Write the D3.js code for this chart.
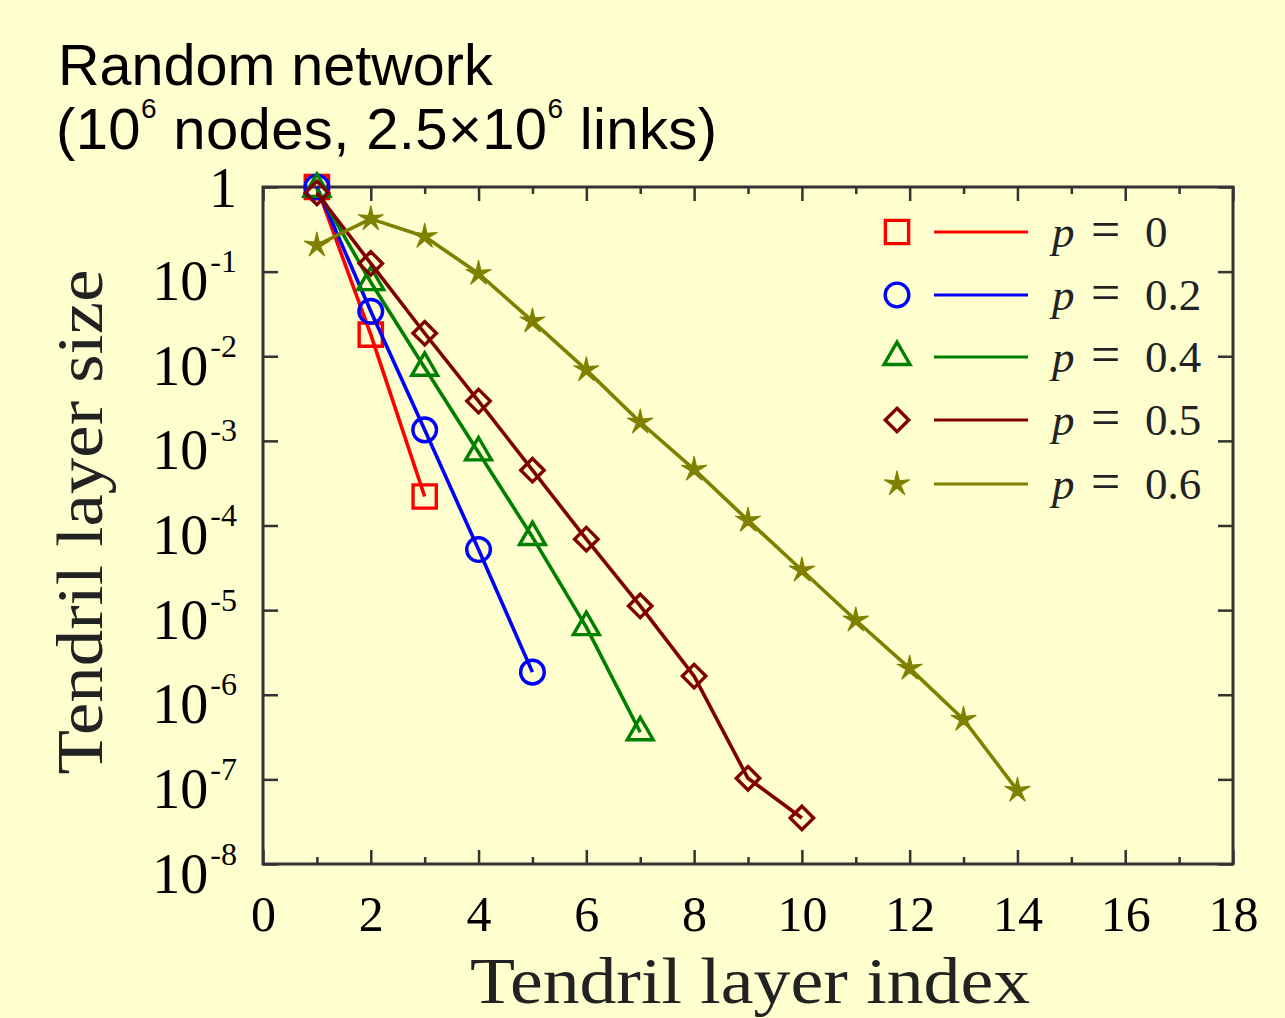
<!DOCTYPE html>
<html><head><meta charset="utf-8">
<script src="https://cdn.jsdelivr.net/npm/d3@7"></script>
<style>html,body{margin:0;padding:0;background:#fefecf;} svg{display:block}</style>
</head><body><svg id="c" width="1285" height="1018"></svg>
<script>
// ---- data ----
const titleLine1 = "Random network";
const xLabel = "Tendril layer index";
const yLabel = "Tendril layer size";
const xTicks = [0, 2, 4, 6, 8, 10, 12, 14, 16, 18];
const xMinorTicks = [1, 3, 5, 7, 9, 11, 13, 15, 17];
const yTicks = [1, 1e-1, 1e-2, 1e-3, 1e-4, 1e-5, 1e-6, 1e-7, 1e-8];
const yTickExponents = [0, -1, -2, -3, -4, -5, -6, -7, -8];
const seriesLabels = ["0", "0.2", "0.4", "0.5", "0.6"];
const seriesColors = ["#ff0000", "#0000ff", "#008000", "#800000", "#808000"];
const seriesSymbols = ["square", "circle", "triangle", "diamond", "star"];
const layerIndex = [1, 2, 3, 4, 5, 6, 7, 8, 9, 10, 11, 12, 13, 14];
const sizeP00 = [1.0, 0.018, 2.2e-4];
const sizeP02 = [1.0, 0.034, 1.35e-3, 5.2e-5, 1.85e-6];
const sizeP04 = [0.95, 0.075, 7.3e-3, 7.3e-4, 7.3e-5, 6.3e-6, 3.6e-7];
const sizeP05 = [0.85, 0.125, 0.0187, 2.95e-3, 4.5e-4, 6.9e-5, 1.12e-5, 1.66e-6, 1.03e-7, 3.5e-8];
const sizeP06 = [0.205, 0.42, 0.26, 0.095, 0.026, 6.9e-3, 1.66e-3, 4.6e-4, 1.15e-4, 2.96e-5, 7.6e-6, 2.05e-6, 5.1e-7, 7.4e-8];
const seriesValues = [sizeP00, sizeP02, sizeP04, sizeP05, sizeP06];

// ---- layout ----
const svg = d3.select("#c");
const L = 263, R = 1233, T = 187, B = 864;
const x = d3.scaleLinear().domain([0, 18]).range([L, R]);
const y = d3.scaleLog().domain([1e-8, 1]).range([B, T]);
const serif = "'Liberation Serif', 'Times New Roman', serif";
const sans = "'Liberation Sans', Arial, sans-serif";
const frameColor = "#333";

svg.append("rect").attr("width", 1285).attr("height", 1018).attr("fill", "#fefecf");

// title
svg.append("text").attr("font-family", sans).attr("font-size", 57.5).attr("fill", "#000")
  .attr("x", 58).attr("y", 85).text(titleLine1);
const t2 = svg.append("text").attr("font-family", sans).attr("font-size", 58).attr("fill", "#000")
  .attr("x", 56).attr("y", 149).attr("textLength", 661).attr("lengthAdjust", "spacing");
t2.append("tspan").text("(10");
t2.append("tspan").attr("font-size", 28).attr("dy", -31).text("6");
t2.append("tspan").attr("dy", 31).text(" nodes, 2.5×10");
t2.append("tspan").attr("font-size", 28).attr("dy", -31).text("6");
t2.append("tspan").attr("dy", 31).text(" links)");

// axes
function styleAxis(g) {
  g.select(".domain").remove();
  g.selectAll(".tick line").attr("stroke", frameColor).attr("stroke-width", 2.5);
}
const gxB = svg.append("g").attr("transform", `translate(0,${B})`)
  .call(d3.axisBottom(x).tickValues(xTicks).tickSizeInner(-14).tickSizeOuter(0).tickPadding(22));
styleAxis(gxB);
gxB.selectAll(".tick text").attr("font-family", serif).attr("font-size", 50).attr("fill", "#000")
  .attr("dy", "0.71em").attr("y", 31);
const gxBm = svg.append("g").attr("transform", `translate(0,${B})`)
  .call(d3.axisBottom(x).tickValues(xMinorTicks).tickSizeInner(-7).tickSizeOuter(0).tickFormat(""));
styleAxis(gxBm);
const gxT = svg.append("g").attr("transform", `translate(0,${T})`)
  .call(d3.axisTop(x).tickValues(xTicks).tickSizeInner(-14).tickSizeOuter(0).tickFormat(""));
styleAxis(gxT);
const gxTm = svg.append("g").attr("transform", `translate(0,${T})`)
  .call(d3.axisTop(x).tickValues(xMinorTicks).tickSizeInner(-7).tickSizeOuter(0).tickFormat(""));
styleAxis(gxTm);

const gyL = svg.append("g").attr("transform", `translate(${L},0)`)
  .call(d3.axisLeft(y).tickValues(yTicks).tickSizeInner(-15).tickSizeOuter(0));
styleAxis(gyL);
gyL.selectAll(".tick text").each(function (d) {
  const t = d3.select(this);
  t.text(null).attr("font-family", serif).attr("font-size", 56).attr("fill", "#000")
    .attr("text-anchor", "end").attr("x", -26).attr("dy", null);
  const e = yTickExponents[yTicks.indexOf(d)];
  if (e === 0) {
    t.attr("y", 19).text("1");
  } else {
    t.attr("y", 28);
    t.append("tspan").text("10");
    t.append("tspan").attr("font-size", 32).attr("dy", -28).attr("dx", 2).text(String(e).replace("−", "-"));
  }
});
const gyR = svg.append("g").attr("transform", `translate(${R},0)`)
  .call(d3.axisRight(y).tickValues(yTicks).tickSizeInner(-15).tickSizeOuter(0).tickFormat(""));
styleAxis(gyR);

// frame
svg.append("rect").attr("x", L).attr("y", T).attr("width", R - L).attr("height", B - T)
  .attr("fill", "none").attr("stroke", frameColor).attr("stroke-width", 3);

// axis labels
svg.append("text").attr("font-family", serif).attr("font-size", 66).attr("fill", "#222")
  .attr("x", 750).attr("y", 1003).attr("text-anchor", "middle")
  .attr("textLength", 560).attr("lengthAdjust", "spacingAndGlyphs").text(xLabel);
svg.append("text").attr("font-family", serif).attr("font-size", 66).attr("fill", "#222")
  .attr("transform", "translate(102,522) rotate(-90)").attr("text-anchor", "middle")
  .attr("textLength", 505).attr("lengthAdjust", "spacingAndGlyphs").text(yLabel);

// symbols
const thinStar = {
  draw(context, size) {
    const ro = Math.sqrt(size) * 0.78, ri = ro * 0.3;
    for (let k = 0; k < 10; k++) {
      const a = -Math.PI / 2 + k * Math.PI / 5;
      const r = k % 2 === 0 ? ro : ri;
      if (k === 0) context.moveTo(r * Math.cos(a), r * Math.sin(a));
      else context.lineTo(r * Math.cos(a), r * Math.sin(a));
    }
    context.closePath();
  }
};
const symbolTypes = {
  square: [d3.symbolSquare, 540],
  circle: [d3.symbolCircle, 440],
  triangle: [d3.symbolTriangle, 290],
  diamond: [d3.symbolDiamond2, 350],
  star: [thinStar, 280]
};
function drawSymbol(g, kind, color, cx, cy) {
  const [type, size] = symbolTypes[kind];
  const p = g.append("path").attr("d", d3.symbol(type, size)())
    .attr("transform", `translate(${cx},${cy})`)
    .attr("stroke", color).attr("stroke-width", 3.4).attr("fill", "none")
    .attr("stroke-linejoin", "miter");
  if (kind === "star") p.attr("fill", color).attr("stroke-width", 1.2).attr("stroke-linejoin", "round");
}

const line = d3.line().x(d => x(d[0])).y(d => y(d[1]));
const plot = svg.append("g");
seriesValues.forEach((vals, si) => {
  const pts = vals.map((v, i) => [layerIndex[i], v]);
  const g = plot.append("g");
  g.append("path").attr("d", line(pts)).attr("fill", "none")
    .attr("stroke", seriesColors[si]).attr("stroke-width", 3.6).attr("stroke-linejoin", "round");
  pts.forEach(p => drawSymbol(g, seriesSymbols[si], seriesColors[si], x(p[0]), y(p[1])));
});

// legend
const legRows = [232, 295, 357, 420, 484];
const leg = svg.append("g");
seriesLabels.forEach((lab, i) => {
  const ry = legRows[i];
  drawSymbol(leg, seriesSymbols[i], seriesColors[i], 897, ry);
  leg.append("line").attr("x1", 934).attr("x2", 1028).attr("y1", ry).attr("y2", ry)
    .attr("stroke", seriesColors[i]).attr("stroke-width", 3);
  const t = leg.append("text").attr("font-family", serif).attr("font-size", 45).attr("fill", "#222")
    .attr("y", ry + 15);
  t.append("tspan").attr("x", 1052).attr("font-style", "italic").text("p");
  t.append("tspan").attr("x", 1091).attr("font-size", 52).text("=");
  t.append("tspan").attr("x", 1145).text(lab);
});
</script></body></html>
